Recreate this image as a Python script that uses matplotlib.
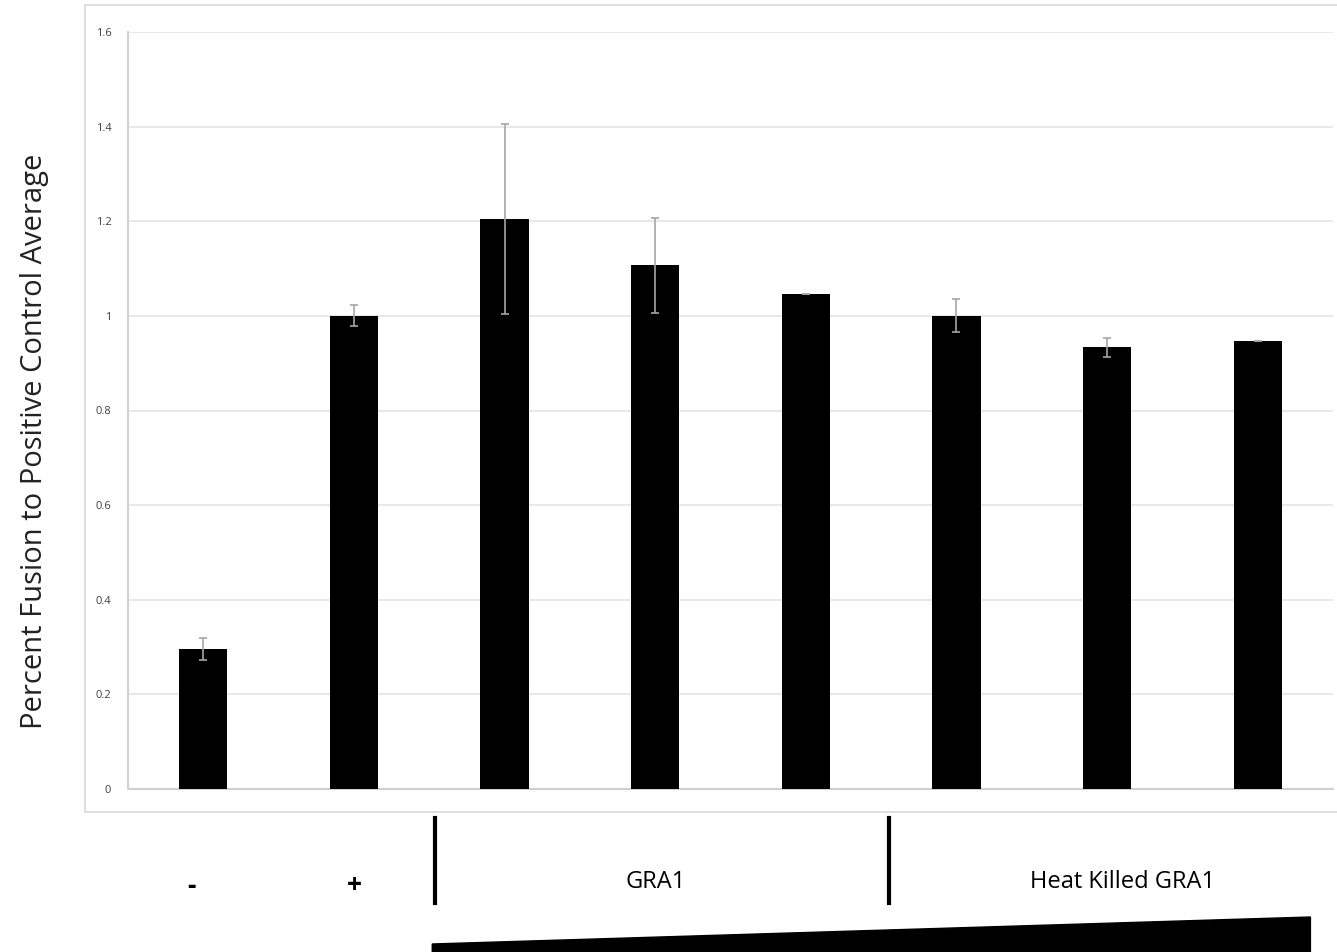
import matplotlib
matplotlib.use("Agg")
import matplotlib.pyplot as plt
import matplotlib.transforms as mtransforms
from matplotlib.patches import Rectangle, Polygon

# Data
groups = ["-", "+", "GRA1 1", "GRA1 2", "GRA1 3", "HK 1", "HK 2", "HK 3"]
values = [0.296, 1.0, 1.205, 1.107, 1.046, 1.0, 0.934, 0.947]
errors = [0.023, 0.022, 0.2, 0.1, 0.0, 0.035, 0.02, 0.0]
y_ticks = [0, 0.2, 0.4, 0.6, 0.8, 1.0, 1.2, 1.4, 1.6]
y_tick_labels = ["0", "0.2", "0.4", "0.6", "0.8", "1", "1.2", "1.4", "1.6"]

plt.rcParams["font.family"] = ["Open Sans", "DejaVu Sans"]

W, H = 1337, 952
fig = plt.figure(figsize=(W / 100, H / 100), dpi=100)

# light chart frame like the spreadsheet chart area
fig.patches.append(Rectangle((85 / W, 1 - 812 / H), 1.0, 807 / H,
                             transform=fig.transFigure, facecolor="white",
                             edgecolor="#d9d9d9", linewidth=1.2, zorder=-10))

ax = fig.add_axes([128 / W, 1 - 789 / H, 1205 / W, (789 - 32) / H])
ax.set_facecolor("none")
ax.set_zorder(2)

x = list(range(len(groups)))
ax.bar(x, values, width=0.32, color="black", zorder=3)
ax.errorbar(x, values, yerr=errors, fmt="none", ecolor="#a6a6a6",
            elinewidth=1.2, capsize=3, capthick=1.2, zorder=4)

ax.set_xlim(-0.5, len(groups) - 0.5)
ax.set_ylim(0, 1.6)
ax.set_yticks(y_ticks)
ax.set_yticklabels(y_tick_labels, fontsize=8, color="#404040")
ax.set_xticks([])
ax.tick_params(axis="y", length=0, pad=12)
ax.grid(True, axis="y", color="#e4e4e4", linewidth=1.2, zorder=0)
ax.set_axisbelow(True)
for side in ["top", "right"]:
    ax.spines[side].set_visible(False)
ax.spines["left"].set_color("#d0d0d0")
ax.spines["bottom"].set_color("#d0d0d0")
ax.spines["left"].set_linewidth(1.5)
ax.spines["bottom"].set_linewidth(1.5)

fig.text(35 / W, 1 - 441 / H, "Percent Fusion to Positive Control Average",
         rotation=90, ha="center", va="center", fontsize=21, color="#222222")

# group annotations below the axis
trans = mtransforms.blended_transform_factory(ax.transData, fig.transFigure)
ax.text(-0.08, 1 - 886 / H, "-", transform=trans, ha="center", va="center",
        fontsize=19, fontweight="bold", clip_on=False)
ax.text(1, 1 - 886 / H, "+", transform=trans, ha="center", va="center",
        fontsize=19, fontweight="bold", clip_on=False)
ax.text(3, 1 - 882 / H, "GRA1", transform=trans, ha="center", va="center",
        fontsize=17, clip_on=False)
ax.text(6.1, 1 - 882 / H, "Heat Killed GRA1", transform=trans, ha="center",
        va="center", fontsize=17, clip_on=False)
for sep in [1.54, 4.55]:
    ax.plot([sep, sep], [1 - 818 / H, 1 - 903 / H], transform=trans,
            color="black", linewidth=3, clip_on=False)

# increasing concentration wedge
wedge = Polygon([(1.52, 1 - 952 / H), (1.52, 1 - 944 / H),
                 (7.35, 1 - 917 / H), (7.35, 1 - 952 / H)],
                closed=True, transform=trans, facecolor="black",
                edgecolor="black", clip_on=False)
ax.add_patch(wedge)

plt.savefig("out.png", dpi=100)
